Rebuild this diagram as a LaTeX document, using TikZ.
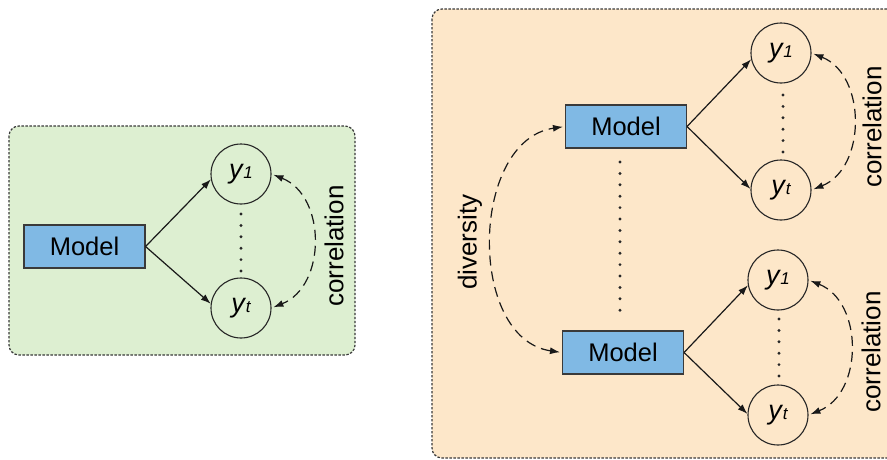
\documentclass[tikz,border=0pt]{standalone}
\usepackage{fontspec}
\setmainfont{Liberation Sans}
\usetikzlibrary{arrows.meta}
\definecolor{panelgreen}{HTML}{DDEFD1}
\definecolor{panelpeach}{HTML}{FDE7C9}
\definecolor{modelblue}{HTML}{80B9E4}
\definecolor{edgegray}{HTML}{3A3A3A}
\newcommand{\yvar}[1]{{\itshape y\kern0.8pt{\fontsize{17}{17}\selectfont #1}}}
\tikzset{
  panel/.style={draw=edgegray, line width=1.2pt, dash pattern=on 2.4pt off 1.6pt, rounded corners=10pt},
  modelbox/.style={draw=edgegray, fill=modelblue, line width=1.1pt, minimum width=121pt, minimum height=43pt, inner sep=0pt, font=\fontsize{25.5}{25.5}\selectfont},
  outnode/.style={circle, draw=black!85, line width=1.1pt, minimum size=60pt, inner sep=0pt, font=\fontsize{27}{27}\selectfont},
  feed/.style={-{Latex[length=10pt,width=7pt]}, line width=1.2pt, black!90},
  linked/.style={{Latex[length=10pt,width=7pt]}-{Latex[length=10pt,width=7pt]}, line width=1.2pt, black!90, dash pattern=on 10pt off 6pt, shorten <=2pt, shorten >=2pt},
  dots/.style={line width=3.2pt, line cap=round, dash pattern=on 0pt off 11.4pt, black!85},
  sidelabel/.style={rotate=90, font=\fontsize{26}{26}\selectfont, inner sep=0pt}
}
\begin{document}
\begin{tikzpicture}[x=1pt,y=-1pt]
\useasboundingbox (0,0) rectangle (887,459);
\clip (0,0) rectangle (887,459);

% ---- single model with correlated outputs ----
\draw[panel, fill=panelgreen] (9,126) rectangle (355,355);
\node[modelbox] (ma) at (84.5,246.5) {Model};
\node[outnode] (a1) at (241,174) {\yvar{1}};
\node[outnode] (at) at (241,308) {\yvar{t}};
\coordinate (ad1) at (241,214);
\coordinate (ad2) at (241,271);
\draw[dots] (ad1) -- (ad2);
\draw[feed] (ma.east) -- (a1.190);
\draw[feed] (ma.east) -- (at.172);
\draw[linked] (a1.east) .. controls +(55,22) and +(55,-22) .. (at.east);
\node[sidelabel] (acorr) at (334,246) {correlation};

% ---- ensemble of diverse models ----
\draw[panel, fill=panelpeach] (432,9) rectangle (900,458);
\node[modelbox] (m1) at (626,126.5) {Model};
\node[modelbox] (m2) at (623,352.5) {Model};
\coordinate (md1) at (620,162);
\coordinate (md2) at (620,318);
\draw[dots] (md1) -- (md2);
\draw[linked] (m2.west) .. controls +(-95,-14) and +(-95,14) .. (m1.west);
\node[sidelabel] (div) at (470,242) {diversity};

% upper model
\node[outnode] (b1) at (781,53) {\yvar{1}};
\node[outnode] (bt) at (781,190) {\yvar{t}};
\coordinate (bd1) at (783,95);
\coordinate (bd2) at (783,152);
\draw[dots] (bd1) -- (bd2);
\draw[feed] (m1.east) -- (b1.192);
\draw[feed] (m1.east) -- (bt.178);
\draw[linked] (b1.east) .. controls +(55,22) and +(55,-22) .. (bt.east);
\node[sidelabel] (bcorr) at (872,127) {correlation};

% lower model
\node[outnode] (c1) at (778,280) {\yvar{1}};
\node[outnode] (ct) at (778,415) {\yvar{t}};
\coordinate (cd1) at (779,319);
\coordinate (cd2) at (779,376);
\draw[dots] (cd1) -- (cd2);
\draw[feed] (m2.east) -- (c1.190);
\draw[feed] (m2.east) -- (ct.178);
\draw[linked] (c1.east) .. controls +(55,22) and +(55,-22) .. (ct.east);
\node[sidelabel] (ccorr) at (871,352) {correlation};
\end{tikzpicture}
\end{document}
